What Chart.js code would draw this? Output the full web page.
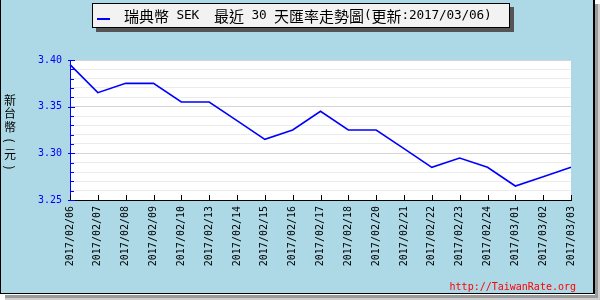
<!DOCTYPE html>
<html>
<head>
<meta charset="utf-8">
<script src="https://cdn.jsdelivr.net/npm/chart.js@4"></script>
<style>
    body { margin: 0; background: #ffffff; }
    #wrap { width: 600px; height: 300px; }
</style>
</head>
<body>
<div id="wrap"><canvas id="rateChart" width="600" height="300"></canvas></div>
<script>
const dates = [
    "2017/02/06", "2017/02/07", "2017/02/08", "2017/02/09", "2017/02/10", "2017/02/13",
    "2017/02/14", "2017/02/15", "2017/02/16", "2017/02/17", "2017/02/18", "2017/02/20",
    "2017/02/21", "2017/02/22", "2017/02/23", "2017/02/24", "2017/03/01", "2017/03/02",
    "2017/03/03"
];
const rates = [
    3.395, 3.365, 3.375, 3.375, 3.355, 3.355,
    3.335, 3.315, 3.325, 3.345, 3.325, 3.325,
    3.305, 3.285, 3.295, 3.285, 3.265, 3.275,
    3.285
];
const yMin = 3.25;
const yMax = 3.40;
const yStep = 0.01;
const titleText = "瑞典幣 SEK  最近 30 天匯率走勢圖(更新:2017/03/06)";
const yTitleChars = ["新", "台", "幣", "(", "元", ")"];
const watermark = "http://TaiwanRate.org";

const monoFont = "'DejaVu Sans Mono', monospace";
const cjkFont = "'Noto Sans CJK TC', sans-serif";

function isMajor(value) {
    return Math.round(value * 100) % 5 === 0;
}

// draws text like a fixed-cell bitmap font: half width for latin, full for CJK
function drawCellText(ctx, text, x, y, full) {
    let cx = x;
    for (const ch of text) {
        const half = ch.charCodeAt(0) < 0x2000;
        const w = half ? full / 2 : full;
        ctx.font = half ? (full * 0.85) + "px " + monoFont : full + "px " + cjkFont;
        ctx.fillText(ch, cx + w / 2, y);
        cx += w;
    }
}

const framePlugin = {
    id: "frame",
    beforeDraw(chart) {
        const ctx = chart.ctx;
        const area = chart.chartArea;
        ctx.save();
        ctx.fillStyle = "#ffffff";
        ctx.fillRect(0, 0, 600, 300);
        // shadow
        ctx.fillStyle = "#9a9a9a";
        ctx.fillRect(595, 4, 3, 293);
        ctx.fillRect(5, 295, 593, 3);
        ctx.fillStyle = "#cfcfcf";
        ctx.fillRect(598, 4, 2, 296);
        ctx.fillRect(5, 298, 595, 2);
        ctx.fillStyle = "#add8e6";
        ctx.fillRect(0, 0, 594, 294);
        ctx.fillStyle = "#000000";
        ctx.fillRect(0, 0, 1, 294);
        ctx.fillRect(0, 293, 595, 1);
        ctx.fillRect(593, 0, 2, 294);
        // plot background
        ctx.fillStyle = "#ffffff";
        ctx.fillRect(area.left, area.top, area.right - area.left, area.bottom - area.top);
        ctx.restore();
    },
    afterDraw(chart) {
        const ctx = chart.ctx;
        const area = chart.chartArea;
        const x = chart.scales.x;
        const y = chart.scales.y;
        ctx.save();

        // x ticks pointing inward
        ctx.strokeStyle = "#000000";
        ctx.lineWidth = 1;
        x.ticks.forEach((t, i) => {
            const px = Math.round(x.getPixelForTick(i)) + 0.5;
            ctx.beginPath();
            ctx.moveTo(px, area.bottom);
            ctx.lineTo(px, area.bottom - 5);
            ctx.stroke();
        });

        // y ticks
        ctx.strokeStyle = "#0000ff";
        y.ticks.forEach((t, i) => {
            const py = Math.round(y.getPixelForTick(i)) + 0.5;
            ctx.beginPath();
            if (isMajor(t.value)) {
                ctx.moveTo(area.left - 2, py);
                ctx.lineTo(area.left + 5, py);
            } else {
                ctx.moveTo(area.left, py);
                ctx.lineTo(area.left + 4, py);
            }
            ctx.stroke();
        });

        // title box
        ctx.fillStyle = "#555555";
        ctx.fillRect(96, 7, 418, 25);
        ctx.fillStyle = "#f2f2f2";
        ctx.fillRect(92, 3, 418, 25);
        ctx.strokeStyle = "#000000";
        ctx.strokeRect(92.5, 3.5, 417, 24);
        ctx.strokeStyle = "#0000ff";
        ctx.lineWidth = 2;
        ctx.beginPath();
        ctx.moveTo(97, 19);
        ctx.lineTo(110, 19);
        ctx.stroke();
        ctx.fillStyle = "#000000";
        ctx.textAlign = "center";
        ctx.textBaseline = "middle";
        drawCellText(ctx, titleText, 124, 16, 15);

        // y axis title, stacked characters, brackets turned sideways
        ctx.font = "12px " + cjkFont;
        yTitleChars.forEach((c, i) => {
            const cy = 100 + i * 13.5;
            if (c === "(" || c === ")") {
                ctx.save();
                ctx.translate(10, cy);
                ctx.rotate(Math.PI / 2);
                ctx.fillText(c, 0, 0);
                ctx.restore();
            } else {
                ctx.fillText(c, 10, cy);
            }
        });

        // watermark
        ctx.fillStyle = "#ff0000";
        ctx.font = "10px " + monoFont;
        ctx.textAlign = "right";
        ctx.textBaseline = "alphabetic";
        ctx.fillText(watermark, 576, 290);
        ctx.restore();
    }
};

const ctx = document.getElementById("rateChart").getContext("2d");
new Chart(ctx, {
    type: "line",
    data: {
        labels: dates,
        datasets: [
            {
                label: "SEK",
                data: rates,
                borderColor: "#0000ff",
                borderWidth: 1.6,
                pointRadius: 0,
                tension: 0,
                fill: false
            }
        ]
    },
    options: {
        responsive: false,
        animation: false,
        layout: {
            padding: { left: 0, right: 29, top: 60, bottom: 0 }
        },
        plugins: {
            legend: { display: false },
            tooltip: { enabled: false }
        },
        scales: {
            x: {
                offset: false,
                afterFit: scale => { scale.height = 100; },
                grid: {
                    drawOnChartArea: false,
                    drawTicks: false
                },
                border: { color: "#000000", width: 1 },
                ticks: {
                    autoSkip: false,
                    minRotation: 90,
                    maxRotation: 90,
                    padding: 6,
                    color: "#000000",
                    font: { family: monoFont, size: 10 }
                }
            },
            y: {
                min: yMin,
                max: yMax,
                afterFit: scale => { scale.width = 70; },
                grid: {
                    drawTicks: false,
                    color: c => isMajor(c.tick.value) ? "#d4d4d4" : "#ececec",
                    lineWidth: 1
                },
                border: { color: "#0000ff", width: 1 },
                ticks: {
                    stepSize: yStep,
                    maxTicksLimit: 30,
                    autoSkip: false,
                    padding: 8,
                    color: "#0000ff",
                    font: { family: monoFont, size: 10 },
                    callback: value => isMajor(value) ? value.toFixed(2) : ""
                }
            }
        }
    },
    plugins: [framePlugin]
});
</script>
</body>
</html>
